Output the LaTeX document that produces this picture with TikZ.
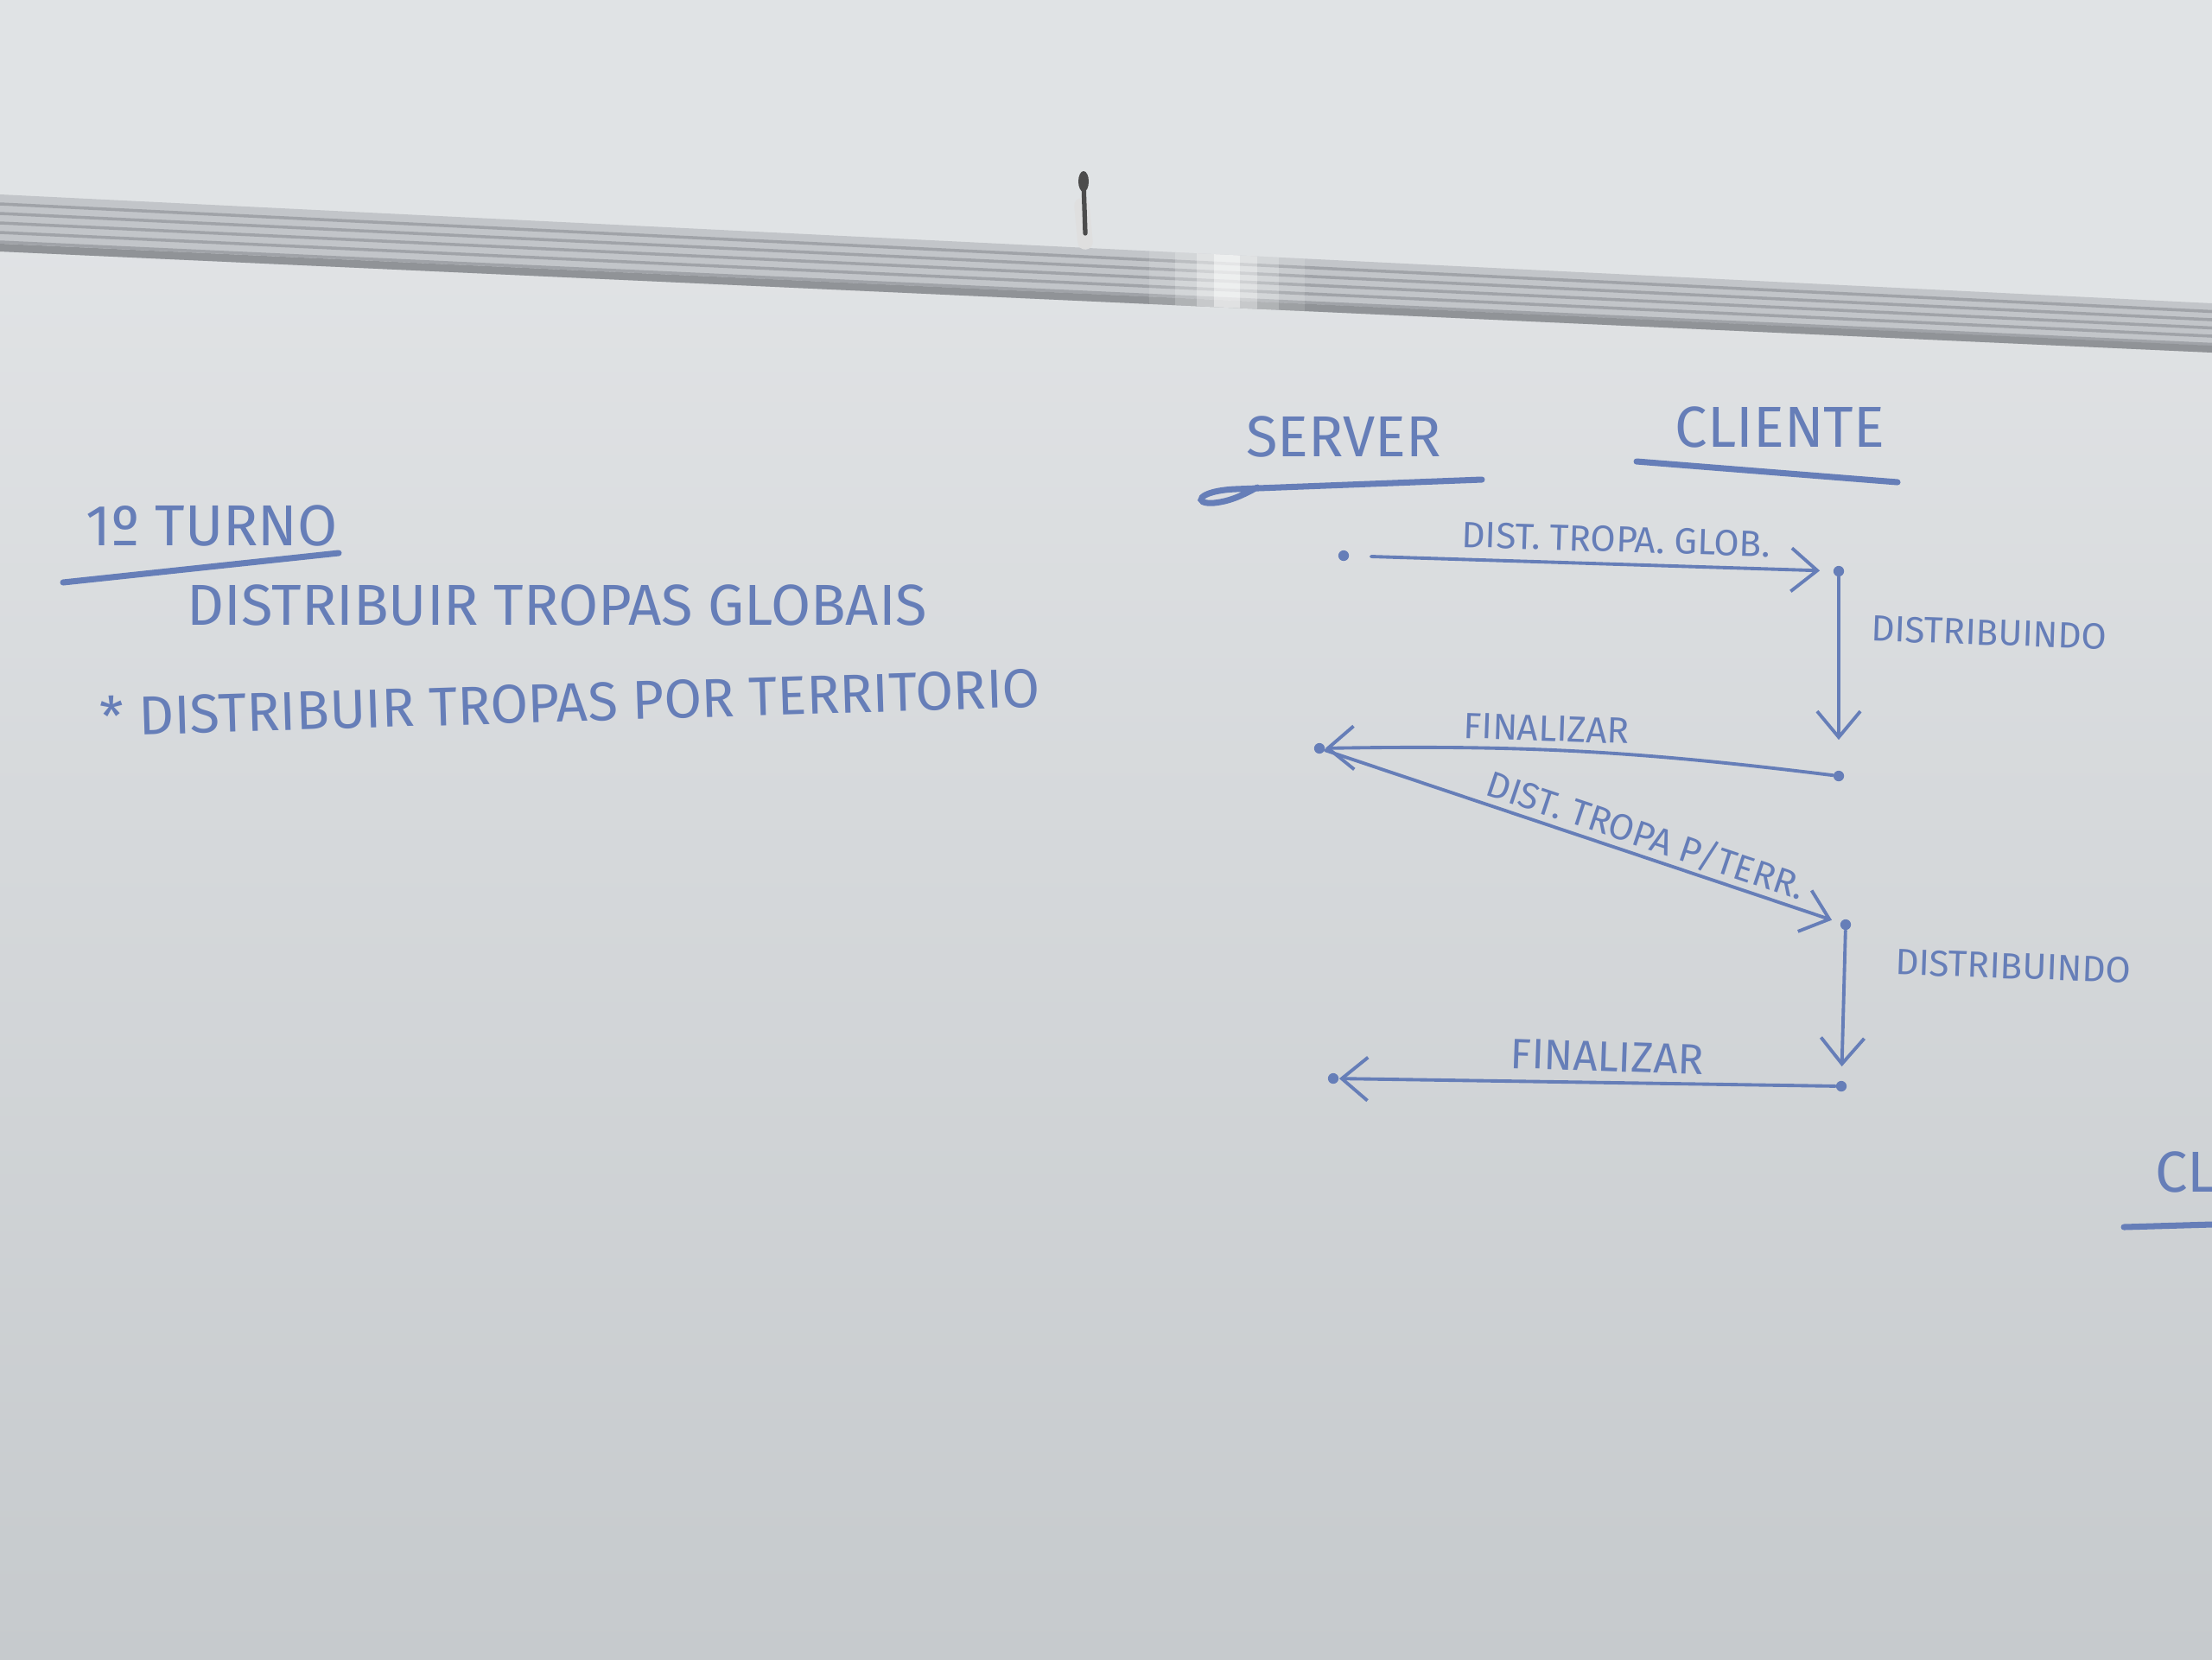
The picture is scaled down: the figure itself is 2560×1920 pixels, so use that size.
\documentclass[tikz,border=0pt]{standalone}
\usepackage{fontspec}
\setmainfont{Fira Sans}
\usetikzlibrary{arrows.meta, positioning, calc}
\definecolor{ink}{RGB}{102,126,184}
\definecolor{boardtop}{RGB}{229,231,233}
\definecolor{boardbot}{RGB}{198,202,205}
\definecolor{wall}{RGB}{224,227,229}
\definecolor{rail}{RGB}{194,197,201}
\definecolor{raildk}{RGB}{160,163,168}

\begin{document}
\begin{tikzpicture}[
    x=0.01cm, y=-0.01cm,
    >={Straight Barb[length=3mm, width=5mm]},
    hand/.style={ink, font=\fontsize{19}{22}\selectfont},
    head/.style={ink, font=\fontsize{19}{22}\selectfont},
    small/.style={ink, font=\fontsize{12}{14}\selectfont},
    pen/.style={ink, line width=2pt, line cap=round},
    msg/.style={->, ink, line width=1.1pt, line cap=round},
    dot/.style={circle, fill=ink, inner sep=0pt, minimum size=3.5pt},
]
    \useasboundingbox (0,0) rectangle (2560,1920);
    \clip (0,0) rectangle (2560,1920);

    % Board and rail
    \shade[top color=boardtop, bottom color=boardbot] (0,0) rectangle (2560,1920);
    \fill[wall] (0,0) -- (2560,0) -- (2560,351) -- (0,225) -- cycle;
    \begin{scope}
        \clip (0,225) -- (2560,351) -- (2560,408) -- (0,291) -- cycle;
        \fill[rail] (0,200) rectangle (2560,420);
        \foreach \k in {1,...,5}
            \draw[raildk, line width=1pt] (0,225+11*\k) -- (2560,351+9.5*\k);
        \fill[raildk!90!black] (0,282) -- (2560,400) -- (2560,420) -- (0,300) -- cycle;
        % glare
        \foreach \w/\o in {90/0.12, 60/0.2, 35/0.3, 15/0.45}
            \fill[white, opacity=\o] (1420-\w,200) rectangle (1420+\w,420);
    \end{scope}
    % nail
    \draw[gray!25, line width=5pt, line cap=round] (1252,238) -- (1256,280);
    \draw[black!70, line width=1.5pt, line cap=round] (1254,210) -- (1256,270);
    \fill[black!70] (1254,210) ellipse (6 and 12);

    % Left notes
    \node[hand] (turno) at (245,608) {1º TURNO};
    \draw[pen] (73,674) -- (392,640);
    \node[hand] (globais) at (645,700) {DISTRIBUIR TROPAS GLOBAIS};
    \node[hand, rotate=1.8, font=\fontsize{18}{21}\selectfont] (territorio) at (660,812) {* DISTRIBUIR TROPAS POR TERRITORIO};

    % Lifelines
    \node[head] (server) at (1555,505) {SERVER};
    \node[head] (cliente) at (2060,494) {CLIENTE};
    \draw[pen] (1715,555) -- (1430,566) .. controls (1385,568) and (1380,584) .. (1405,582) .. controls (1425,580) and (1440,572) .. (1455,564);
    \draw[pen] (1894,534) -- (2196,558);

    \node[dot] (s1) at (1555,643) {};
    \node[dot] (c1) at (2128,661) {};
    \node[dot] (c2) at (2128,898) {};
    \node[dot] (s2) at (1527,866) {};
    \node[dot] (c3) at (2136,1070) {};
    \node[dot] (c4) at (2131,1257) {};
    \node[dot] (s3) at (1543,1248) {};

    % Messages
    \draw[msg, shorten <=2.5mm, shorten >=1.5mm] (s1) -- node[small, sloped, above, pos=0.55] {DIST. TROPA. GLOB.} (c1);
    \draw[msg, shorten >=3.5mm] (c1) -- (c2);
    \node[small, rotate=-2] (dist1) at (2302,732) {DISTRIBUINDO};
    \draw[msg] (c2) to[bend right=4] (s2);
    \node[small, rotate=-2] (fin1) at (1790,843) {FINALIZAR};
    \draw[msg, shorten >=1mm] (s2) -- node[small, sloped, above, pos=0.61, inner sep=1pt] {DIST. TROPA P/TERR.} (c3);
    \draw[msg, shorten >=1.6mm] (c3) -- (c4);
    \node[small, rotate=-2] (dist2) at (2330,1118) {DISTRIBUINDO};
    \draw[msg] (c4) -- (s3);
    \node[small, rotate=-2, font=\fontsize{14}{16}\selectfont] (fin2) at (1860,1223) {FINALIZAR};

    % Next column, cut off
    \node[head, anchor=west] (cl) at (2482,1356) {CL};
    \draw[pen] (2458,1420) -- (2560,1417);
\end{tikzpicture}
\end{document}
